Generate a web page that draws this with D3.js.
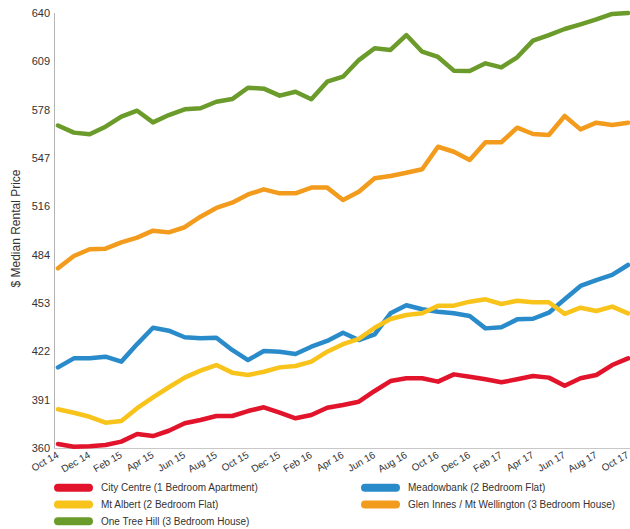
<!DOCTYPE html>
<html>
<head>
<meta charset="utf-8">
<script src="https://cdn.jsdelivr.net/npm/d3@7"></script>
<style>
  html, body { margin: 0; padding: 0; background: #fff; }
  svg { display: block; font-family: "Liberation Sans", Arial, Helvetica, sans-serif; }
</style>
</head>
<body>
<svg id="chart" width="630" height="529"></svg>
<script>
// ---- Data ----
const months = [
  "Oct 14","Nov 14","Dec 14","Jan 15","Feb 15","Mar 15","Apr 15","May 15","Jun 15","Jul 15","Aug 15","Sep 15",
  "Oct 15","Nov 15","Dec 15","Jan 16","Feb 16","Mar 16","Apr 16","May 16","Jun 16","Jul 16","Aug 16","Sep 16",
  "Oct 16","Nov 16","Dec 16","Jan 17","Feb 17","Mar 17","Apr 17","May 17","Jun 17","Jul 17","Aug 17","Sep 17","Oct 17"
];
const xTickLabels = ["Oct 14","Dec 14","Feb 15","Apr 15","Jun 15","Aug 15","Oct 15","Dec 15","Feb 16","Apr 16",
  "Jun 16","Aug 16","Oct 16","Dec 16","Feb 17","Apr 17","Jun 17","Aug 17","Oct 17"];
const yTickValues = [360, 391.11, 422.22, 453.33, 484.44, 515.56, 546.67, 577.78, 608.89, 640];

const cityCentre = [362.6,360.8,361.1,361.9,364.1,369.0,367.7,371.1,375.9,378.0,380.6,380.6,
  383.8,386.2,382.7,379.1,381.2,385.9,387.7,389.8,396.7,403.1,404.9,404.9,
  402.7,407.4,405.9,404.2,402.3,404.2,406.3,405.3,400.1,404.9,407.0,413.4,417.7];
const meadowbank = [411.9,417.7,417.7,418.8,415.6,426.9,437.4,435.5,431.3,430.6,431.0,423.1,
  416.6,422.4,422.0,420.5,425.2,428.9,434.2,429.5,433.2,446.7,451.9,449.3,
  447.7,446.7,445.0,437.0,437.7,442.8,443.2,447.1,455.7,464.3,468.1,471.4,477.8];
const mtAlbert = [384.9,382.7,380.1,376.3,377.4,385.6,392.6,399.1,405.3,409.8,413.4,408.5,
  407.0,409.1,411.9,412.8,415.6,422.0,426.8,430.2,437.4,443.0,445.6,446.7,
  451.5,451.6,454.2,455.7,452.7,454.8,453.8,453.8,446.3,450.3,448.2,451.0,446.7];
const glenInnes = [475.7,483.6,487.9,488.3,492.4,495.4,499.9,498.8,502.1,508.9,514.5,517.9,
  523.2,526.5,523.9,523.9,527.6,527.6,519.6,525.0,533.6,535.1,537.2,539.4,
  553.9,550.7,545.4,556.8,556.8,566.2,562.1,561.5,573.7,565.1,569.4,567.9,569.4];
const oneTreeHill = [567.6,563.0,561.9,566.8,573.3,577.1,569.6,574.3,578.0,578.7,582.9,584.6,
  591.9,591.3,586.8,589.3,584.5,595.8,599.0,609.7,617.3,616.2,625.8,615.1,
  611.7,602.9,602.7,607.6,605.0,611.5,622.2,625.8,629.7,632.7,635.9,639.4,640.0];

const seriesNames = ["City Centre (1 Bedroom Apartment)","Meadowbank (2 Bedroom Flat)","Mt Albert (2 Bedroom Flat)",
  "Glen Innes / Mt Wellington (3 Bedroom House)","One Tree Hill (3 Bedroom House)"];
const seriesColors = ["#e2142c","#2a8bcb","#f8c31b","#f39b1c","#6b9b2b"];
const seriesValues = [cityCentre, meadowbank, mtAlbert, glenInnes, oneTreeHill];
const yTitle = "$ Median Rental Price";

// ---- Chart ----
const svg = d3.select("#chart");
const plot = { left: 54, right: 630, top: 13, bottom: 448 };

const x = d3.scalePoint().domain(months).range([58, 628]);
const y = d3.scaleLinear().domain([360, 640]).range([plot.bottom, plot.top]);

// axes lines
svg.append("line").attr("x1", plot.left).attr("x2", plot.right)
  .attr("y1", plot.bottom + 0.5).attr("y2", plot.bottom + 0.5)
  .attr("stroke", "#c8c8c8").attr("stroke-width", 1);
svg.append("line").attr("x1", plot.left + 0.5).attr("x2", plot.left + 0.5)
  .attr("y1", plot.top).attr("y2", plot.bottom)
  .attr("stroke", "#b4b4b4").attr("stroke-width", 1);

// y axis
const yAxis = d3.axisLeft(y).tickValues(yTickValues).tickFormat(d3.format(".0f")).tickSize(0).tickPadding(4);
const gy = svg.append("g").attr("transform", `translate(${plot.left},0)`).call(yAxis);
gy.select(".domain").remove();
gy.selectAll("text").attr("fill", "#333").style("font-size", "11px")
  .style("font-family", "'Liberation Sans', Arial, sans-serif");

// x axis
const xAxis = d3.axisBottom(x).tickValues(xTickLabels).tickSize(0);
const gx = svg.append("g").attr("transform", `translate(0,${plot.bottom})`).call(xAxis);
gx.select(".domain").remove();
gx.selectAll("text")
  .attr("fill", "#333").style("font-size", "10px")
  .style("font-family", "'Liberation Sans', Arial, sans-serif")
  .attr("text-anchor", "end")
  .attr("y", 0).attr("dy", 0)
  .attr("transform", "translate(1,9) rotate(-30)");

// y title
svg.append("text")
  .attr("transform", `translate(16,${(plot.top + plot.bottom) / 2 - 2}) rotate(-90)`)
  .attr("text-anchor", "middle").attr("dominant-baseline", "central")
  .attr("fill", "#333").style("font-size", "12px").text(yTitle);

// lines
const line = d3.line().x((d, i) => x(months[i])).y(d => y(d));
seriesValues.forEach((vals, k) => {
  svg.append("path").datum(vals)
    .attr("d", line)
    .attr("fill", "none")
    .attr("stroke", seriesColors[k])
    .attr("stroke-width", 4.5)
    .attr("stroke-linejoin", "round")
    .attr("stroke-linecap", "round");
});

// legend
const colX = [54, 361];
const rowY = [487.7, 504.5, 521.3];
seriesNames.forEach((name, k) => {
  const col = k % 2, row = Math.floor(k / 2);
  const g = svg.append("g").attr("transform", `translate(${colX[col]},${rowY[row]})`);
  g.append("line").attr("x1", 4).attr("x2", 35).attr("y1", 0).attr("y2", 0)
    .attr("stroke", seriesColors[k]).attr("stroke-width", 8).attr("stroke-linecap", "round");
  g.append("text").attr("x", 47).attr("y", 0).attr("dominant-baseline", "central")
    .attr("fill", "#333").style("font-size", "10px").text(name);
});
</script>
</body>
</html>
